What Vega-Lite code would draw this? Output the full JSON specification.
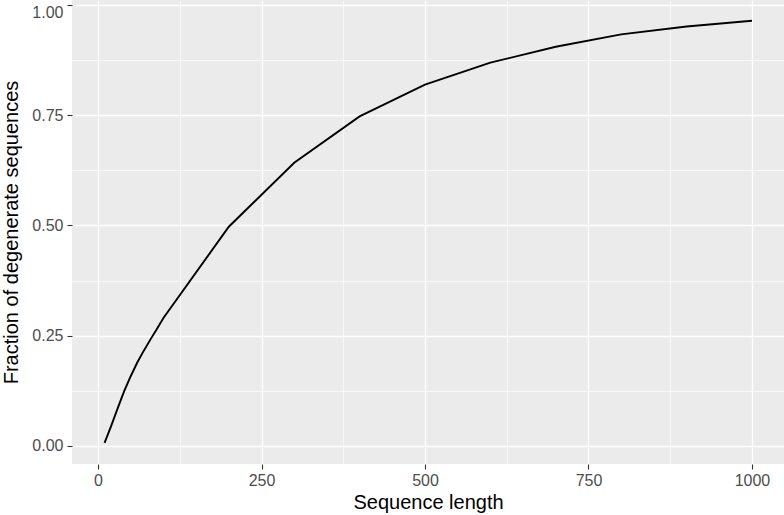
{
  "$schema": "https://vega.github.io/schema/vega-lite/v6.json",
  "width": 712,
  "height": 464,
  "autosize": {"type": "none"},
  "padding": {"left": 72, "top": 0, "right": 0, "bottom": 51},
  "background": "white",
  "config": {
    "view": {"fill": "#EBEBEB", "stroke": null},
    "axis": {
      "labelFont": "Liberation Sans",
      "titleFont": "Liberation Sans",
      "labelFontSize": 16,
      "labelColor": "#4D4D4D",
      "titleFontSize": 20,
      "titleFontWeight": "normal",
      "titleColor": "#000000",
      "tickColor": "#333333",
      "tickSize": 5,
      "tickWidth": 1.1,
      "domain": false,
      "grid": true,
      "gridColor": "#FFFFFF",
      "gridWidth": 1.3,
      "gridOpacity": 1
    }
  },
  "data": {
    "values": [
      {"length": 10, "fraction": 0.007},
      {"length": 20, "fraction": 0.045},
      {"length": 30, "fraction": 0.085},
      {"length": 40, "fraction": 0.124},
      {"length": 50, "fraction": 0.158},
      {"length": 60, "fraction": 0.189},
      {"length": 70, "fraction": 0.216},
      {"length": 80, "fraction": 0.241},
      {"length": 90, "fraction": 0.265},
      {"length": 100, "fraction": 0.29},
      {"length": 200, "fraction": 0.497},
      {"length": 300, "fraction": 0.642},
      {"length": 400, "fraction": 0.747},
      {"length": 500, "fraction": 0.819},
      {"length": 600, "fraction": 0.869},
      {"length": 700, "fraction": 0.905},
      {"length": 800, "fraction": 0.933},
      {"length": 900, "fraction": 0.951},
      {"length": 1000, "fraction": 0.964}
    ]
  },
  "layer": [
    {
      "mark": {"type": "line", "opacity": 0},
      "encoding": {
        "x": {
          "field": "length", "type": "quantitative",
          "scale": {"domain": [-39.8, 1049], "nice": false, "zero": false},
          "axis": {"orient": "top", "values": [125, 375, 625, 875], "grid": true, "labels": false, "ticks": false, "title": null, "gridWidth": 0.65}
        },
        "y": {
          "field": "fraction", "type": "quantitative",
          "scale": {"domain": [-0.041, 1.011], "nice": false, "zero": false},
          "axis": {"orient": "right", "values": [0.125, 0.375, 0.625, 0.875], "grid": true, "labels": false, "ticks": false, "title": null, "gridWidth": 0.65}
        }
      }
    },
    {
      "mark": {"type": "line", "stroke": "#000000", "strokeWidth": 1.9},
      "encoding": {
        "x": {
          "field": "length", "type": "quantitative",
          "axis": {"values": [0, 250, 500, 750, 1000], "format": "d", "grid": true, "title": "Sequence length", "labelPadding": 3, "titlePadding": 4}
        },
        "y": {
          "field": "fraction", "type": "quantitative",
          "axis": {"values": [0, 0.25, 0.5, 0.75, 1], "format": ".2f", "grid": true, "labelFlush": 10, "title": "Fraction of degenerate sequences", "labelPadding": 4, "titlePadding": 10}
        }
      }
    }
  ],
  "resolve": {"axis": {"x": "independent", "y": "independent"}}
}
